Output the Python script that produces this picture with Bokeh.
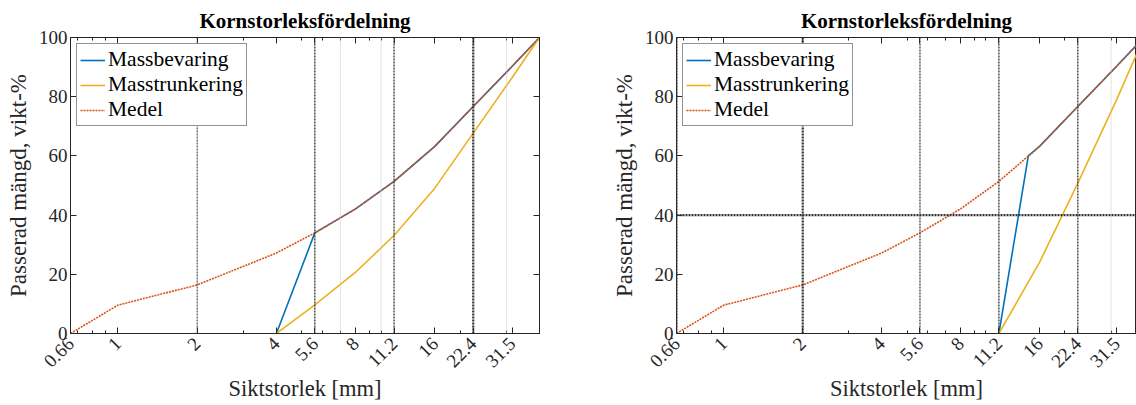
import math
from bokeh.plotting import figure
from bokeh.layouts import row
from bokeh.models import (FixedTicker, LogAxis, LinearAxis, Span, Legend, LegendItem,
                          Range1d, CustomJSTickFormatter)
from bokeh.embed import file_html
from bokeh.resources import INLINE

# ---------------- data ----------------
x_ticks = [0.66, 1, 2, 4, 5.6, 8, 11.2, 16, 22.4, 31.5]
x_tick_labels = ["0.66", "1", "2", "4", "5.6", "8", "11.2", "16", "22.4", "31.5"]
x_minor_ticks = [0.7, 0.8, 0.9, 3, 5, 6, 7, 9, 10, 20, 30, 40]
y_ticks = [0, 20, 40, 60, 80, 100]

sieve = [0.66, 1, 2, 4, 5.6, 8, 11.2, 16, 22.4, 31.5, 40]
medel = [0, 9.6, 16.4, 27.2, 34, 42.1, 51.4, 63.2, 76.7, 90.3, 100]

left_mb_x = [4, 5.6, 8, 11.2, 16, 22.4, 31.5, 40]
left_mb_y = [0, 34, 42.1, 51.4, 63.2, 76.7, 90.3, 100]
left_mt_x = [4, 5.6, 8, 11.2, 16, 22.4, 31.5, 40]
left_mt_y = [0, 9.7, 20.7, 33.1, 49.1, 67.7, 86.5, 100]

right_mb_x = [11.2, 14.5, 16, 22.4, 31.5, 40]
right_mb_y = [0, 60, 63.2, 76.7, 90.3, 100]
right_mt_x = [11.2, 16, 22.4, 31.5, 40]
right_mt_y = [0, 24, 50.8, 79, 100]

left_vlines = [2, 5.6, 11.2, 22.4]
left_light_vlines = [7, 10, 30]
right_vlines = [0.66, 2, 5.6, 11.2, 22.4]
right_light_vlines = [30]
right_hlines = [40]

title_text = "Kornstorleksfördelning"
x_label = "Siktstorlek [mm]"
y_label = "Passerad mängd, vikt-%"
series_names = ["Massbevaring", "Masstrunkering", "Medel"]

# ---------------- style ----------------
FONT = "'Liberation Serif', 'DejaVu Serif', serif"
INK = "#262626"
C_BLUE = "#0072BD"
C_YEL = "#EDB120"
C_RED = "#D95319"
left_vline_widths = [1, 1.3, 1.3, 2.2]
right_vline_widths = [2.2, 2.2, 1.2, 1.3, 1.3]
right_hline_widths = [2.2]

blank_fmt = CustomJSTickFormatter(code="return '';")


def style_axis(ax):
    ax.axis_line_color = INK
    ax.major_tick_line_color = INK
    ax.minor_tick_line_color = INK
    ax.major_tick_in = 6
    ax.major_tick_out = 0
    ax.minor_tick_in = 3
    ax.minor_tick_out = 0
    ax.major_label_text_font = FONT
    ax.major_label_text_color = INK
    ax.major_label_text_font_size = "19px"
    ax.major_label_standoff = 3
    ax.axis_label_text_font = FONT
    ax.axis_label_text_color = INK
    ax.axis_label_text_font_style = "normal"
    ax.axis_label_text_font_size = "23px"


def make(mbx, mby, mtx, mty, vl, vlw, lvl, hl, hlw, width, bl, br, x_end):
    p = figure(width=width, height=405, x_axis_type="log",
               x_range=Range1d(0.66, x_end), y_range=Range1d(0, 100),
               output_backend="svg", toolbar_location=None,
               min_border_left=bl, min_border_right=br,
               min_border_top=37, min_border_bottom=72)
    p.grid.visible = False
    p.outline_line_color = INK
    p.outline_line_width = 1
    p.background_fill_color = "white"
    p.border_fill_color = "white"

    p.title.text = title_text
    p.title.align = "center"
    p.title.text_font = FONT
    p.title.text_font_style = "bold"
    p.title.text_font_size = "21px"
    p.title.text_color = "black"

    xt = FixedTicker(ticks=x_ticks, minor_ticks=x_minor_ticks)
    fmt = CustomJSTickFormatter(args=dict(t=x_ticks, l=x_tick_labels),
                                code="const i = t.findIndex(v => Math.abs(v - tick) < 1e-6); return i >= 0 ? l[i] : '';")
    xa = p.xaxis[0]
    xa.ticker = xt
    xa.formatter = fmt
    xa.major_label_orientation = math.pi / 4
    xa.axis_label = x_label
    style_axis(xa)
    xa.major_label_standoff = 7
    xa.axis_label_standoff = 0
    xa.axis_label_text_font_size = "22.5px"

    ya = p.yaxis[0]
    ya.ticker = FixedTicker(ticks=y_ticks, minor_ticks=[])
    ya.axis_label = y_label
    style_axis(ya)

    top = LogAxis(ticker=FixedTicker(ticks=x_ticks, minor_ticks=x_minor_ticks), formatter=blank_fmt)
    style_axis(top)
    p.add_layout(top, "above")
    if br > 0:
        rt = LinearAxis(ticker=FixedTicker(ticks=y_ticks, minor_ticks=[]), formatter=blank_fmt)
        style_axis(rt)
        p.add_layout(rt, "right")

    for loc, w in zip(vl, vlw):
        p.add_layout(Span(location=loc, dimension="height", line_color="#333333",
                          line_dash="2 1", line_width=w))
    for loc in lvl:
        p.add_layout(Span(location=loc, dimension="height", line_color="#c8c8c8",
                          line_dash="1 1", line_width=1))
    for loc, w in zip(hl, hlw):
        p.add_layout(Span(location=loc, dimension="width", line_color="#333333",
                          line_dash="2 1", line_width=w))

    r1 = p.line(mbx, mby, line_color=C_BLUE, line_width=1.6)
    r2 = p.line(mtx, mty, line_color=C_YEL, line_width=1.6)
    r3 = p.line(sieve, medel, line_color=C_RED, line_width=1.6, line_dash="2 1")

    leg = Legend(items=[LegendItem(label=series_names[0], renderers=[r1]),
                        LegendItem(label=series_names[1], renderers=[r2]),
                        LegendItem(label=series_names[2], renderers=[r3])],
                 location="top_left")
    leg.label_text_font = FONT
    leg.label_text_font_size = "21.5px"
    leg.label_text_color = "black"
    leg.label_height = 20
    leg.glyph_width = 25
    leg.glyph_height = 20
    leg.spacing = 0
    leg.padding = 3
    leg.margin = 6
    leg.label_standoff = 3
    leg.border_line_color = INK
    leg.border_line_width = 1
    leg.background_fill_alpha = 1
    p.add_layout(leg)
    return p


p1 = make(left_mb_x, left_mb_y, left_mt_x, left_mt_y, left_vlines, left_vline_widths,
          left_light_vlines, [], [], 580, 70, 41, 40)
p2 = make(right_mb_x, right_mb_y, right_mt_x, right_mt_y, right_vlines, right_vline_widths,
          right_light_vlines, right_hlines, right_hline_widths, 556, 96, 0, 37.5)

layout = row(p1, p2)
open("out.html", "w").write(file_html(layout, INLINE))
